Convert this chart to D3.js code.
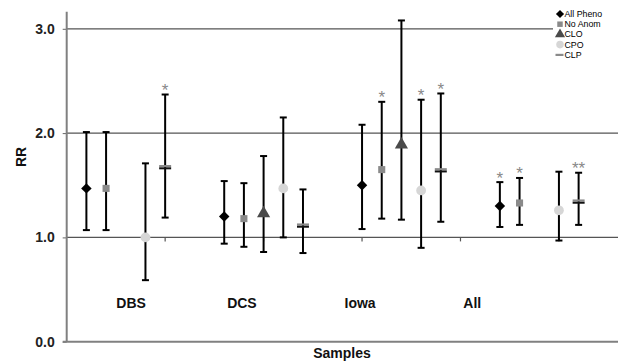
<!DOCTYPE html>
<html>
<head>
<meta charset="utf-8">
<script src="https://cdn.jsdelivr.net/npm/d3@7"></script>
<style>
  body { margin: 0; background: #fff; }
  svg { font-family: 'Liberation Sans', Arial, sans-serif; }
</style>
</head>
<body>
<div id="chart"></div>
<script>
// groups and series
const groups = ['DBS', 'DCS', 'Iowa', 'All'];
const seriesNames = ['All Pheno', 'No Anom', 'CLO', 'CPO', 'CLP'];

// RR point estimates, one array per series, values in group order (null = not shown)
const allPheno = [1.47, 1.20, 1.50, 1.30];
const noAnom = [1.47, 1.18, 1.65, 1.33];
const clo = [null, 1.23, 1.89, null];
const cpo = [1.00, 1.47, 1.45, 1.26];
const clp = [1.67, 1.11, 1.64, 1.34];

// lower / upper confidence limits
const allPhenoLow = [1.07, 0.94, 1.08, 1.10];
const allPhenoHigh = [2.01, 1.54, 2.08, 1.53];
const noAnomLow = [1.07, 0.91, 1.18, 1.12];
const noAnomHigh = [2.01, 1.52, 2.30, 1.57];
const cloLow = [null, 0.86, 1.17, null];
const cloHigh = [null, 1.78, 3.08, null];
const cpoLow = [0.59, 1.00, 0.90, 0.97];
const cpoHigh = [1.71, 2.15, 2.32, 1.63];
const clpLow = [1.19, 0.85, 1.15, 1.12];
const clpHigh = [2.37, 1.46, 2.38, 1.62];

// significance marks
const allPhenoSig = ['', '', '', '*'];
const noAnomSig = ['', '', '*', '*'];
const cloSig = ['', '', '', ''];
const cpoSig = ['', '', '*', ''];
const clpSig = ['*', '', '*', '**'];

const yTicks = [0, 1, 2, 3];

const values = [allPheno, noAnom, clo, cpo, clp];
const lows = [allPhenoLow, noAnomLow, cloLow, cpoLow, clpLow];
const highs = [allPhenoHigh, noAnomHigh, cloHigh, cpoHigh, clpHigh];
const sigs = [allPhenoSig, noAnomSig, cloSig, cpoSig, clpSig];

const width = 622, height = 362;
const plot = { left: 66.7, right: 618, top: 11.7, bottom: 341.7 };

// category slots: 28 intervals, each group takes 5 slots with 2 empty between
const groupStart = [1, 8, 15, 22];
const labelSlot = [3.27, 8.9, 14.9, 20.6];

const rows = [];
groups.forEach((g, gi) => {
  seriesNames.forEach((s, si) => {
    if (values[si][gi] == null) return;
    rows.push({
      group: g, series: s, si: si,
      slot: groupStart[gi] + si,
      v: values[si][gi], lo: lows[si][gi], hi: highs[si][gi], sig: sigs[si][gi]
    });
  });
});

const svg = d3.select('#chart')
  .append('svg')
  .attr('width', width)
  .attr('height', height);

const x = d3.scaleLinear().domain([0, 28]).range([plot.left, plot.right]);
const y = d3.scaleLinear().domain([0, 3.164]).range([plot.bottom, plot.top]);

// value axis labels with outward ticks
svg.append('g')
  .attr('class', 'axis')
  .attr('transform', 'translate(' + plot.left + ',0)')
  .call(d3.axisLeft(y)
    .tickValues(yTicks)
    .tickFormat(d3.format('.1f'))
    .tickSize(4)
    .tickPadding(8)
  )
  .call(g => g.select('.domain').remove())
  .call(g => g.selectAll('.tick line').attr('stroke', '#666'))
  .call(g => g.selectAll('.tick text')
    .attr('font-size', 14)
    .attr('font-weight', 'bold')
    .attr('fill', '#222')
    .attr('font-family', "'Liberation Sans', Arial, sans-serif"));

// gridlines at 1,2,3
svg.append('g')
  .selectAll('line')
  .data(yTicks.filter(d => d > 0))
  .join('line')
  .attr('x1', plot.left)
  .attr('x2', d => d === 3 ? 553 : plot.right)
  .attr('y1', d => y(d))
  .attr('y2', d => y(d))
  .attr('stroke', '#555')
  .attr('stroke-width', 1.2);

// category axis crosses at 1.0
svg.append('g')
  .selectAll('line')
  .data([5, 10, 15, 20, 25])
  .join('line')
  .attr('x1', d => x(d))
  .attr('x2', d => x(d))
  .attr('y1', y(1))
  .attr('y2', y(1) + 4)
  .attr('stroke', '#555')
  .attr('stroke-width', 1.2);

// plot frame: left axis and base line
svg.append('line')
  .attr('x1', plot.left).attr('x2', plot.left)
  .attr('y1', plot.top).attr('y2', plot.bottom)
  .attr('stroke', '#808080')
  .attr('stroke-width', 2);
svg.append('line')
  .attr('x1', plot.left - 4).attr('x2', plot.right)
  .attr('y1', plot.bottom).attr('y2', plot.bottom)
  .attr('stroke', '#808080')
  .attr('stroke-width', 2);

// error bars
const bars = svg.append('g');
bars.selectAll('line.stem')
  .data(rows)
  .join('line')
  .attr('class', 'stem')
  .attr('x1', d => x(d.slot)).attr('x2', d => x(d.slot))
  .attr('y1', d => y(d.lo)).attr('y2', d => y(d.hi))
  .attr('stroke', '#000')
  .attr('stroke-width', 2);
['lo', 'hi'].forEach(k => {
  bars.selectAll('line.cap-' + k)
    .data(rows)
    .join('line')
    .attr('class', 'cap-' + k)
    .attr('x1', d => x(d.slot) - 3.5).attr('x2', d => x(d.slot) + 3.5)
    .attr('y1', d => y(d[k])).attr('y2', d => y(d[k]))
    .attr('stroke', '#000')
    .attr('stroke-width', 2);
});

// markers
const colors = ['#000', '#8a8a8a', '#4a4a4a', '#d6d6d6', '#8a8a8a'];
const symbols = [d3.symbolDiamond2, d3.symbolSquare, d3.symbolTriangle, d3.symbolCircle, null];
const sizes = [70, 50, 75, 75, 0];

function drawMarker(sel, si, cx, cy) {
  if (si === 4) {
    sel.append('rect')
      .attr('x', cx - 6).attr('y', cy - 2.5)
      .attr('width', 12).attr('height', 2.2)
      .attr('fill', colors[4]);
    sel.append('line')
      .attr('x1', cx - 6).attr('x2', cx + 6)
      .attr('y1', cy + 0.8).attr('y2', cy + 0.8)
      .attr('stroke', '#111')
      .attr('stroke-width', 2);
    return;
  }
  sel.append('path')
    .attr('transform', 'translate(' + cx + ',' + cy + ')')
    .attr('d', d3.symbol().type(symbols[si]).size(sizes[si]))
    .attr('fill', colors[si]);
}

const marks = svg.append('g');
rows.forEach(d => drawMarker(marks, d.si, x(d.slot), y(d.v)));

// significance stars
svg.append('g')
  .selectAll('text')
  .data(rows.filter(d => d.sig))
  .join('text')
  .attr('x', d => x(d.slot))
  .attr('y', d => y(d.hi) + 1.5)
  .attr('text-anchor', 'middle')
  .attr('font-size', 17)
  .attr('fill', '#888')
  .text(d => d.sig);

// group labels
svg.append('g')
  .selectAll('text')
  .data(groups)
  .join('text')
  .attr('x', (d, i) => x(labelSlot[i]))
  .attr('y', 308)
  .attr('text-anchor', 'middle')
  .attr('font-size', 14)
  .attr('font-weight', 'bold')
  .attr('fill', '#111')
  .text(d => d);

// axis titles
svg.append('text')
  .attr('x', 342)
  .attr('y', 358)
  .attr('text-anchor', 'middle')
  .attr('font-size', 14)
  .attr('font-weight', 'bold')
  .attr('fill', '#111')
  .text('Samples');

svg.append('text')
  .attr('transform', 'translate(26,157) rotate(-90)')
  .attr('text-anchor', 'middle')
  .attr('font-size', 14)
  .attr('font-weight', 'bold')
  .attr('fill', '#111')
  .text('RR');

// legend
const legend = svg.append('g');
legend.append('rect')
  .attr('x', 555).attr('y', 7)
  .attr('width', 64).attr('height', 55)
  .attr('fill', '#fff');
seriesNames.forEach((s, i) => {
  const ly = 14 + i * 10.2;
  const g = legend.append('g');
  if (i === 4) {
    g.append('rect')
      .attr('x', 555.5).attr('y', ly - 1)
      .attr('width', 8).attr('height', 2.2)
      .attr('fill', colors[4]);
  } else {
    g.append('path')
      .attr('transform', 'translate(560,' + ly + ')')
      .attr('d', d3.symbol().type(symbols[i]).size(sizes[i] * 0.6))
      .attr('fill', colors[i]);
  }
  g.append('text')
    .attr('x', 564.5)
    .attr('y', ly)
    .attr('dy', '0.35em')
    .attr('font-size', 8.8)
    .attr('fill', '#000')
    .text(s);
});
</script>
</body>
</html>
